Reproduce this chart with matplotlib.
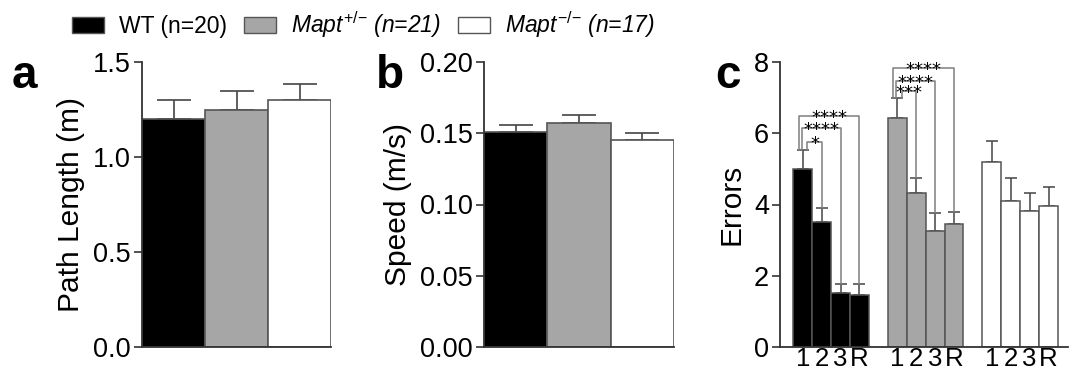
import matplotlib
matplotlib.use("Agg")
import matplotlib.pyplot as plt
from matplotlib.patches import Patch

plt.rcParams['font.family'] = ['Liberation Sans', 'DejaVu Sans']
plt.rcParams['mathtext.fontset'] = 'custom'
plt.rcParams['mathtext.rm'] = 'Liberation Sans'
plt.rcParams['mathtext.it'] = 'Liberation Sans:italic'

# data
groups = ['WT (n=20)', r'$\mathit{Mapt}^{+/{-}}$ (n=21)', r'$\mathit{Mapt}^{{-}/{-}}$ (n=17)']
colors = ['black', '#a6a6a6', 'white']

path_mean = [1.20, 1.25, 1.30]
path_sem = [0.10, 0.095, 0.082]

speed_mean = [0.151, 0.157, 0.145]
speed_sem = [0.005, 0.006, 0.005]

trials = ['1', '2', '3', 'R']
err_wt = [5.01, 3.52, 1.51, 1.47]
err_wt_sem = [0.51, 0.39, 0.27, 0.31]
err_het = [6.42, 4.31, 3.26, 3.44]
err_het_sem = [0.57, 0.42, 0.50, 0.34]
err_ko = [5.19, 4.11, 3.82, 3.95]
err_ko_sem = [0.58, 0.63, 0.49, 0.54]

# significance: (group, from trial, to trial, bracket height, label)
sig = [
    (0, 0, 1, 5.76, '*'),
    (0, 0, 2, 6.15, '****'),
    (0, 0, 3, 6.48, '****'),
    (1, 0, 1, 7.20, '***'),
    (1, 0, 2, 7.46, '****'),
    (1, 0, 3, 7.84, '****'),
]

W, H = 1075, 372
fig = plt.figure(figsize=(W / 100, H / 100), dpi=100)

def px_axes(l, r, b, t):
    return fig.add_axes([l / W, 1 - b / H, (r - l) / W, (b - t) / H])

def style(ax):
    for s in ['top', 'right']:
        ax.spines[s].set_visible(False)
    for s in ['left', 'bottom']:
        ax.spines[s].set_color('#333333')
        ax.spines[s].set_linewidth(1.3)
    ax.tick_params(axis='y', length=6, width=1.2, color='#333333', labelsize=19.5, pad=2)
    ax.tick_params(axis='x', length=0, labelsize=18.5, pad=0)

edge = '#555555'
ecol = '#444444'

# panel a
ax1 = px_axes(142, 331, 347, 62)
x = range(3)
ax1.bar(x, path_mean, width=1, color=colors, edgecolor=edge, linewidth=1.2, zorder=2)
ax1.errorbar(x, path_mean, yerr=[[0] * 3, path_sem], fmt='none', ecolor=ecol,
             elinewidth=1.2, capsize=12, capthick=1.2, zorder=1)
ax1.set_xlim(-0.5, 2.5)
ax1.set_ylim(0, 1.5)
ax1.set_yticks([0, 0.5, 1.0, 1.5])
ax1.set_yticklabels(['0.0', '0.5', '1.0', '1.5'])
ax1.set_xticks([])
ax1.set_ylabel('Path Length (m)', fontsize=21.5, labelpad=6)
style(ax1)

# panel b
ax2 = px_axes(484, 674, 347, 62)
ax2.bar(x, speed_mean, width=1, color=colors, edgecolor=edge, linewidth=1.2, zorder=2)
ax2.errorbar(x, speed_mean, yerr=[[0] * 3, speed_sem], fmt='none', ecolor=ecol,
             elinewidth=1.2, capsize=12, capthick=1.2, zorder=1)
ax2.set_xlim(-0.5, 2.5)
ax2.set_ylim(0, 0.2)
ax2.set_yticks([0, 0.05, 0.10, 0.15, 0.20])
ax2.set_yticklabels(['0.00', '0.05', '0.10', '0.15', '0.20'])
ax2.set_xticks([])
ax2.set_ylabel('Speed (m/s)', fontsize=21.5, labelpad=6)
style(ax2)

# panel c
ax3 = px_axes(780, 1068, 347, 62)
means = [err_wt, err_het, err_ko]
sems = [err_wt_sem, err_het_sem, err_ko_sem]
ticks, labels = [], []
for g in range(3):
    xs = [g * 5 + i for i in range(4)]
    ax3.bar(xs, means[g], width=1, color=colors[g], edgecolor=edge, linewidth=1.1, zorder=2)
    ax3.errorbar(xs, means[g], yerr=[[0] * 4, sems[g]], fmt='none', ecolor=ecol,
                 elinewidth=1.1, capsize=4.5, capthick=1.1, zorder=1)
    ticks += xs
    labels += trials

left_off = {1: 0.25, 2: -0.05, 3: -0.2}
for g, i, j, y, lab in sig:
    x0 = g * 5 + i + left_off[j]
    x1 = g * 5 + j
    y0 = means[g][i] + sems[g][i]
    y1 = means[g][j] + sems[g][j]
    ax3.plot([x0, x0, x1, x1], [y0, y, y, y1], color='#7f7f7f', lw=1.1, zorder=3)
    ax3.text((x0 + x1) / 2, y - 0.2, lab, ha='center', va='baseline', fontsize=13,
             family='DejaVu Sans', zorder=4)

ax3.set_xlim(-1.2, 14.03)
ax3.set_ylim(0, 8)
ax3.set_yticks([0, 2, 4, 6, 8])
ax3.set_xticks(ticks)
ax3.set_xticklabels(labels)
ax3.set_ylabel('Errors', fontsize=21.5, labelpad=6)
style(ax3)

# panel letters
for lx, lab in [(12, 'a'), (376, 'b'), (715, 'c')]:
    fig.text(lx / W, 1 - 88 / H, lab, fontsize=33, fontweight='bold', ha='left', va='baseline')

# legend
handles = [Patch(facecolor=c, edgecolor='#555555', linewidth=1) for c in colors]
leg = fig.legend(handles, groups, loc='center left', bbox_to_anchor=(72 / W, 1 - 25 / H),
                 ncol=3, frameon=False, fontsize=16.5, handlelength=1.4, handleheight=0.7,
                 handletextpad=0.65, columnspacing=0.75, borderpad=0, borderaxespad=0)
for t in leg.get_texts()[1:]:
    t.set_fontstyle('italic')

fig.savefig('out.png', dpi=100)
